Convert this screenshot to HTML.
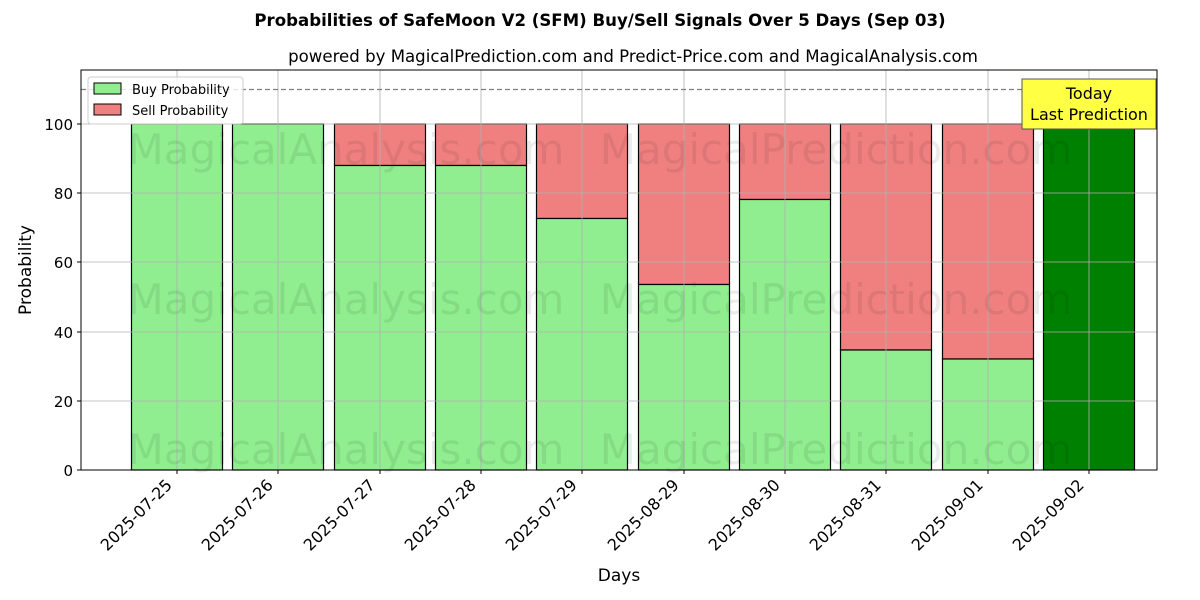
<!DOCTYPE html>
<html><head><meta charset="utf-8"><style>
body{margin:0;background:#fff;}
svg{display:block;font-family:"DejaVu Sans","Liberation Sans",sans-serif;}
</style></head><body>
<svg width="1200" height="600" viewBox="0 0 1200 600">
<rect width="1200" height="600" fill="#fff"/>
<text x="600" y="26" text-anchor="middle" font-size="16.6" font-weight="bold">Probabilities of SafeMoon V2 (SFM) Buy/Sell Signals Over 5 Days (Sep 03)</text>
<text x="633" y="62" text-anchor="middle" font-size="16.6">powered by MagicalPrediction.com and Predict-Price.com and MagicalAnalysis.com</text>
<g stroke="#000" stroke-width="1.2">
<rect x="131.5" y="124" width="91" height="346" fill="#90ee90"/>
<rect x="232.5" y="124" width="91" height="346" fill="#90ee90"/>
<rect x="334.5" y="124" width="91" height="41.5" fill="#f08080"/>
<rect x="334.5" y="165.5" width="91" height="304.5" fill="#90ee90"/>
<rect x="435.5" y="124" width="91" height="41.5" fill="#f08080"/>
<rect x="435.5" y="165.5" width="91" height="304.5" fill="#90ee90"/>
<rect x="536.5" y="124" width="91" height="94.5" fill="#f08080"/>
<rect x="536.5" y="218.5" width="91" height="251.5" fill="#90ee90"/>
<rect x="638.5" y="124" width="91" height="160.5" fill="#f08080"/>
<rect x="638.5" y="284.5" width="91" height="185.5" fill="#90ee90"/>
<rect x="739.5" y="124" width="91" height="75.5" fill="#f08080"/>
<rect x="739.5" y="199.5" width="91" height="270.5" fill="#90ee90"/>
<rect x="840.5" y="124" width="91" height="226" fill="#f08080"/>
<rect x="840.5" y="350" width="91" height="120" fill="#90ee90"/>
<rect x="942.5" y="124" width="91" height="235" fill="#f08080"/>
<rect x="942.5" y="359" width="91" height="111" fill="#90ee90"/>
<rect x="1043.5" y="124" width="91" height="346" fill="#008000"/>
</g>
<g stroke="#b0b0b0" stroke-width="0.8">
<line x1="81" x2="1157" y1="401" y2="401"/>
<line x1="81" x2="1157" y1="332" y2="332"/>
<line x1="81" x2="1157" y1="262" y2="262"/>
<line x1="81" x2="1157" y1="193" y2="193"/>
<line x1="81" x2="1157" y1="124" y2="124"/>
<line x1="177" x2="177" y1="70" y2="470"/>
<line x1="278" x2="278" y1="70" y2="470"/>
<line x1="380" x2="380" y1="70" y2="470"/>
<line x1="481" x2="481" y1="70" y2="470"/>
<line x1="582" x2="582" y1="70" y2="470"/>
<line x1="684" x2="684" y1="70" y2="470"/>
<line x1="785" x2="785" y1="70" y2="470"/>
<line x1="886" x2="886" y1="70" y2="470"/>
<line x1="988" x2="988" y1="70" y2="470"/>
<line x1="1089" x2="1089" y1="70" y2="470"/>
</g>
<g font-size="42" fill="#000" fill-opacity="0.08" text-anchor="middle">
<text x="346" y="164">MagicalAnalysis.com</text>
<text x="836" y="164">MagicalPrediction.com</text>
<text x="346" y="314">MagicalAnalysis.com</text>
<text x="836" y="314">MagicalPrediction.com</text>
<text x="346" y="464">MagicalAnalysis.com</text>
<text x="836" y="464">MagicalPrediction.com</text>
</g>
<line x1="81" x2="1157" y1="89.5" y2="89.5" stroke="#808080" stroke-width="1.2" stroke-dasharray="5,3"/>
<rect x="81" y="70" width="1076" height="400" fill="none" stroke="#000" stroke-width="1"/>
<g stroke="#000"><line x1="77" x2="81" y1="470" y2="470"/><line x1="77" x2="81" y1="401" y2="401"/><line x1="77" x2="81" y1="332" y2="332"/><line x1="77" x2="81" y1="262" y2="262"/><line x1="77" x2="81" y1="193" y2="193"/><line x1="77" x2="81" y1="124" y2="124"/></g>
<g font-size="15" text-anchor="end">
<text x="73" y="476">0</text><text x="73" y="407">20</text><text x="73" y="338">40</text><text x="73" y="268">60</text><text x="73" y="199">80</text><text x="73" y="130">100</text>
</g>
<text transform="translate(31,270) rotate(-90)" text-anchor="middle" font-size="17">Probability</text>
<g stroke="#000"><line x1="177" x2="177" y1="470" y2="474"/><line x1="278" x2="278" y1="470" y2="474"/><line x1="380" x2="380" y1="470" y2="474"/><line x1="481" x2="481" y1="470" y2="474"/><line x1="582" x2="582" y1="470" y2="474"/><line x1="684" x2="684" y1="470" y2="474"/><line x1="785" x2="785" y1="470" y2="474"/><line x1="886" x2="886" y1="470" y2="474"/><line x1="988" x2="988" y1="470" y2="474"/><line x1="1089" x2="1089" y1="470" y2="474"/></g>
<g font-size="16" text-anchor="end">
<text transform="translate(173,486) rotate(-45)">2025-07-25</text>
<text transform="translate(274,486) rotate(-45)">2025-07-26</text>
<text transform="translate(376,486) rotate(-45)">2025-07-27</text>
<text transform="translate(477,486) rotate(-45)">2025-07-28</text>
<text transform="translate(578,486) rotate(-45)">2025-07-29</text>
<text transform="translate(680,486) rotate(-45)">2025-08-29</text>
<text transform="translate(781,486) rotate(-45)">2025-08-30</text>
<text transform="translate(882,486) rotate(-45)">2025-08-31</text>
<text transform="translate(984,486) rotate(-45)">2025-09-01</text>
<text transform="translate(1085,486) rotate(-45)">2025-09-02</text>
</g>
<text x="619" y="581" text-anchor="middle" font-size="17">Days</text>
<rect x="88" y="77" width="155" height="47" fill="#fff" fill-opacity="0.8" stroke="#ccc" rx="3"/>
<rect x="94" y="83" width="27" height="11" fill="#90ee90" stroke="#000"/>
<text x="132" y="94" font-size="13">Buy Probability</text>
<rect x="94" y="104" width="27" height="11" fill="#f08080" stroke="#000"/>
<text x="132" y="115" font-size="13">Sell Probability</text>
<rect x="1022" y="79" width="134" height="50" fill="#ffff44" stroke="#555"/>
<text x="1089" y="99" text-anchor="middle" font-size="16">Today</text>
<text x="1089" y="120" text-anchor="middle" font-size="16">Last Prediction</text>
</svg>
</body></html>
